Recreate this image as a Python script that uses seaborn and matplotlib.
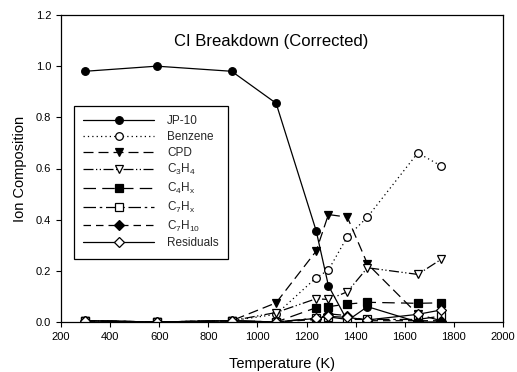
import matplotlib
matplotlib.use("Agg")
import matplotlib.pyplot as plt
import numpy as np
import pandas as pd
import seaborn as sns

# Temperatures (K) and ion composition fractions per species
temperature = [298, 590, 895, 1076, 1239, 1289, 1366, 1448, 1653, 1748]
jp10      = [0.98, 1.00, 0.98, 0.855, 0.357, 0.142, 0.005, 0.060, 0.000, 0.000]
benzene   = [0.005, 0.000, 0.005, 0.030, 0.173, 0.203, 0.333, 0.410, 0.661, 0.610]
cpd       = [0.005, 0.000, 0.005, 0.075, 0.277, 0.420, 0.410, 0.227, 0.030, 0.005]
c3h4      = [0.005, 0.000, 0.005, 0.037, 0.091, 0.088, 0.118, 0.212, 0.186, 0.245]
c4hx      = [0.005, 0.000, 0.005, 0.000, 0.056, 0.060, 0.070, 0.077, 0.073, 0.075]
c7hx      = [0.005, 0.000, 0.005, 0.000, 0.015, 0.020, 0.010, 0.010, 0.010, 0.023]
c7h10     = [0.005, 0.000, 0.005, 0.000, 0.010, 0.032, 0.025, 0.005, 0.005, 0.005]
residuals = [0.005, 0.000, 0.005, 0.000, 0.014, 0.022, 0.018, 0.008, 0.030, 0.047]

labels = ["JP-10", "Benzene", "CPD", r"C$_3$H$_4$", r"C$_4$H$_\mathrm{x}$",
          r"C$_7$H$_\mathrm{x}$", r"C$_7$H$_{10}$", "Residuals"]
series = [jp10, benzene, cpd, c3h4, c4hx, c7hx, c7h10, residuals]

# (linestyle, marker, filled)
styles = [
    ("-", "o", True),
    ((0, (1, 2.5)), "o", False),
    ((0, (8, 4)), "v", True),
    ((0, (8, 2, 1, 2, 1, 2)), "v", False),
    ((0, (10, 5)), "s", True),
    ((0, (10, 3, 2, 3)), "s", False),
    ((0, (6, 4)), "D", True),
    ("-", "D", False),
]

sns.set_theme(style="ticks")
plt.rcParams["font.family"] = ["Liberation Sans", "DejaVu Sans"]
plt.rcParams["mathtext.fontset"] = "custom"
plt.rcParams["mathtext.rm"] = "Liberation Sans"
plt.rcParams["mathtext.it"] = "Liberation Sans:italic"

fig = plt.figure(figsize=(5.17, 3.72), dpi=100)
ax = fig.add_axes([61 / 517, 1 - 322 / 372, 442 / 517, 307 / 372])

for lab, vals, (ls, mk, filled) in zip(labels, series, styles):
    df = pd.DataFrame({"T": temperature, "v": vals})
    sns.lineplot(data=df, x="T", y="v", ax=ax, color="black", linewidth=0.9,
                 linestyle=ls, marker=mk, markersize=5.5 if mk != "v" else 6,
                 markerfacecolor="black" if filled else "white",
                 markeredgecolor="black", markeredgewidth=0.9,
                 label=lab, errorbar=None)

ax.set_xlim(200, 2000)
ax.set_ylim(0, 1.2)
ax.set_xticks(np.arange(200, 2001, 200))
ax.set_yticks(np.arange(0, 1.21, 0.2))
ax.yaxis.set_major_formatter(matplotlib.ticker.FormatStrFormatter("%.1f"))
ax.tick_params(direction="out", length=3.5, width=0.8, labelsize=8, colors="black")
for sp in ax.spines.values():
    sp.set_visible(True)
    sp.set_color("black")
    sp.set_linewidth(0.9)

ax.set_xlabel("Temperature (K)", fontsize=10.5, color="black", labelpad=11)
ax.set_ylabel("Ion Composition", fontsize=10.5, color="black", labelpad=6)
ax.text(1055, 1.098, "CI Breakdown (Corrected)", ha="center", va="center",
        fontsize=12, color="black")

leg = ax.legend(loc="upper left", bbox_to_anchor=(0.029, 0.704), borderaxespad=0,
                fontsize=8.5, handlelength=6, handletextpad=1.1, labelspacing=0.31,
                frameon=True, fancybox=False, edgecolor="black", framealpha=1,
                borderpad=0.8)
leg.get_frame().set_linewidth(0.9)

fig.savefig("out.png", dpi=100)
